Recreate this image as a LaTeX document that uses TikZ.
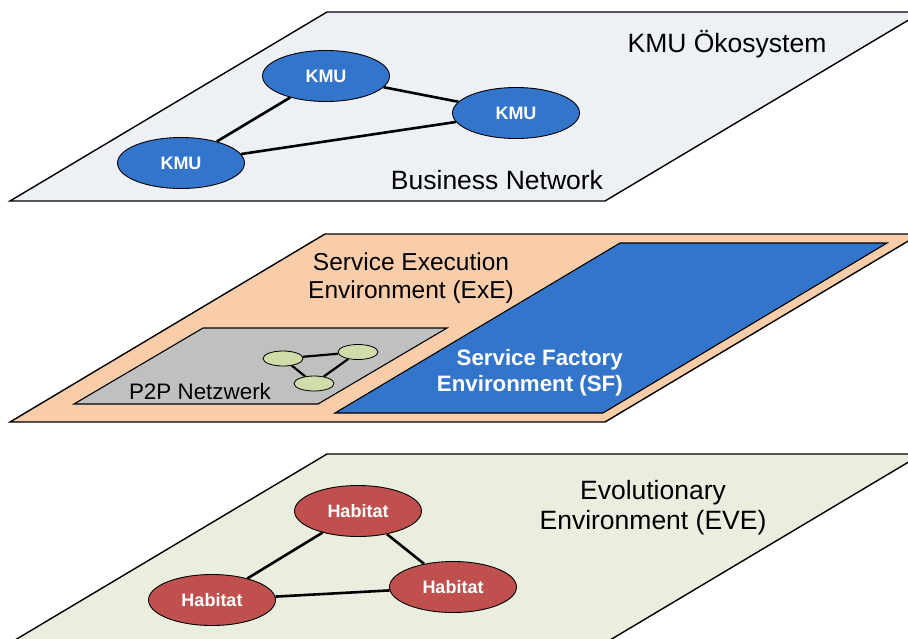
\documentclass[tikz,border=0pt]{standalone}
\usepackage{fontspec}
\setmainfont{Liberation Sans}
\usetikzlibrary{shapes.geometric}

\definecolor{planeTop}{HTML}{EDF0F5}
\definecolor{planeMid}{HTML}{F9CDA9}
\definecolor{planeLow}{HTML}{EAEEDE}
\definecolor{sfBlue}{HTML}{3475CC}
\definecolor{habRed}{HTML}{C0504D}
\definecolor{p2pGray}{HTML}{C0C0C0}
\definecolor{peerGreen}{HTML}{D1DCAB}

\tikzset{
  plane/.style={draw=black, line width=1.4pt, line join=miter},
  subplane/.style={draw=black, line width=1.1pt, line join=miter},
  bignode/.style={ellipse, draw=black, line width=0.9pt,
    minimum width=127pt, minimum height=51pt, inner sep=0pt,
    text=white, font=\bfseries\fontsize{18}{20}\selectfont},
  kmu/.style={bignode, fill=sfBlue},
  habitat/.style={bignode, fill=habRed},
  peer/.style={ellipse, draw=black, line width=0.8pt, fill=peerGreen,
    minimum width=40pt, minimum height=15pt, inner sep=0pt},
  link/.style={line width=2.6pt},
  smalllink/.style={line width=2.2pt},
  title/.style={font=\fontsize{26.5}{30}\selectfont, align=center, inner sep=0pt},
}

\begin{document}
\begin{tikzpicture}[x=1pt, y=-1pt]
\useasboundingbox (0,0) rectangle (908,638);
\clip (0,0) rectangle (908,638);

% ---- upper plane: business network ----
\draw[plane, fill=planeTop] (10,201) -- (327,12) -- (922,12) -- (605,201) -- cycle;
\node[title] (eco) at (727,44) {KMU Ökosystem};
\node[title] (bn) at (497,180) {Business Network};
\node[kmu] (k1) at (326,76) {KMU};
\node[kmu] (k2) at (516,113) {KMU};
\node[kmu] (k3) at (181,163) {KMU};
\draw[link] (k1) -- (k2);
\draw[link] (k1) -- (k3);
\draw[link] (k3) -- (k2);

% ---- middle plane: execution environment ----
\draw[plane, fill=planeMid] (10,422) -- (325,234) -- (920,234) -- (605,422) -- cycle;
\node[title, font=\fontsize{24.5}{28}\selectfont] (exe) at (411,278)
  {Service Execution\\Environment (ExE)};
\draw[subplane, fill=p2pGray] (74,404) -- (203,328) -- (447,328) -- (318,404) -- cycle;
\node[font=\fontsize{22.4}{26}\selectfont, inner sep=0pt] (p2p) at (200,391) {P2P Netzwerk};
\node[peer] (pa) at (283,358.5) {};
\node[peer] (pb) at (358,352) {};
\node[peer] (pc) at (314,383.5) {};
\draw[smalllink] (pa) -- (pb);
\draw[smalllink] (pa) -- (pc);
\draw[smalllink] (pb) -- (pc);
\draw[subplane, fill=sfBlue] (335,413) -- (620,243) -- (887,243) -- (603,413) -- cycle;
\node[anchor=east, align=right, text=white, inner sep=0pt,
  font=\bfseries\fontsize{22.3}{26.5}\selectfont] (sf) at (623,372.5)
  {Service Factory\\Environment (SF)};

% ---- lower plane: evolutionary environment ----
\draw[plane, fill=planeLow] (10,643) -- (327,454) -- (922,454) -- (605,643) -- cycle;
\node[title] (eve) at (653,508) {Evolutionary\\Environment (EVE)};
\node[habitat] (h1) at (358,511) {Habitat};
\node[habitat] (h2) at (212,600) {Habitat};
\node[habitat] (h3) at (453,587) {Habitat};
\draw[link] (h1) -- (h2);
\draw[link] (h1) -- (h3);
\draw[link] (h2) -- (h3);
\end{tikzpicture}
\end{document}
